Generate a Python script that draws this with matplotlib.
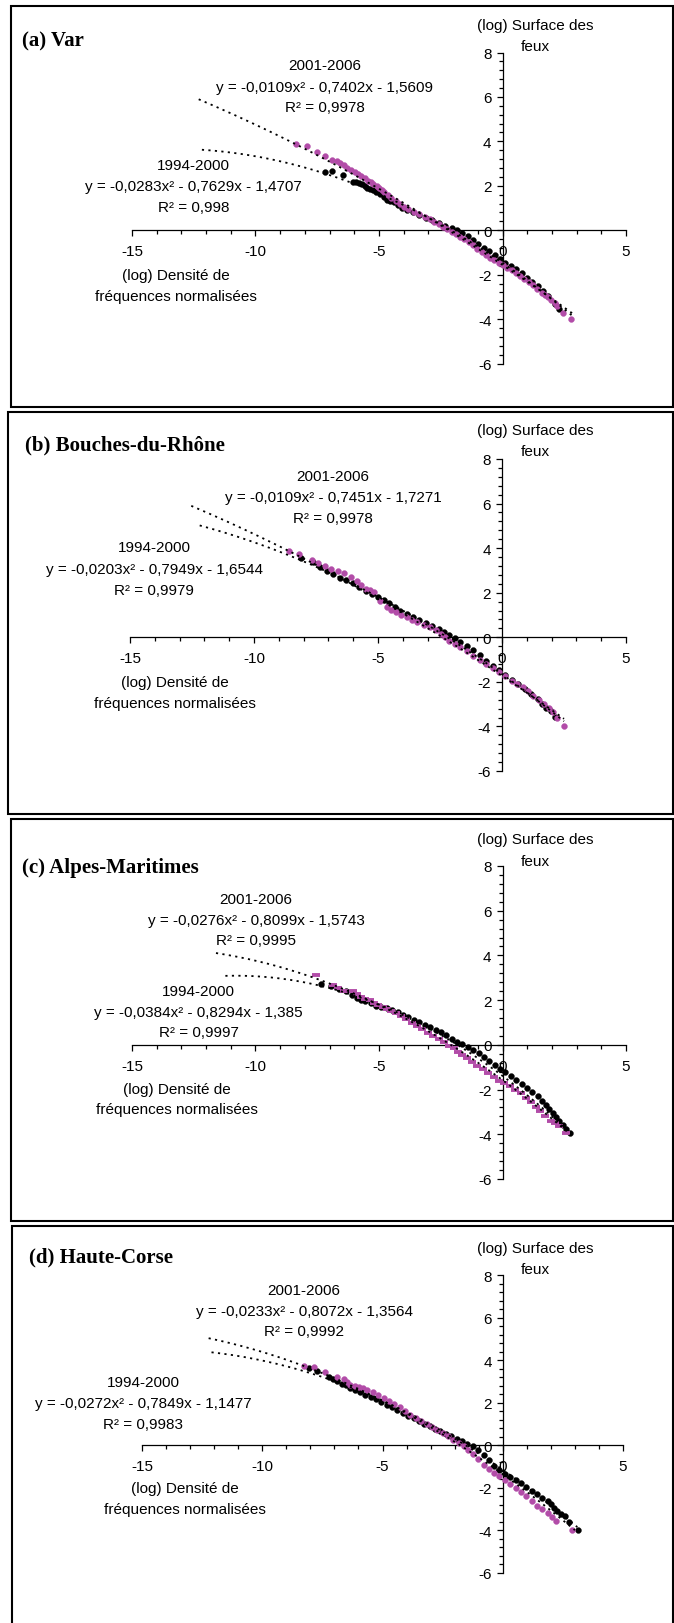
import numpy as np
import matplotlib
matplotlib.use('Agg')
import matplotlib.pyplot as plt
from matplotlib.patches import Rectangle
from matplotlib.ticker import MultipleLocator

plt.rcParams['font.family'] = ['Liberation Sans', 'DejaVu Sans']
plt.rcParams['axes.unicode_minus'] = False

W, H = 674, 1624

# ---------------- data ----------------
panel_titles = ['(a) Var', '(b) Bouches-du-Rhône', '(c) Alpes-Maritimes', '(d) Haute-Corse']
periods = ['1994-2000', '2001-2006']
x_ticks = [-15, -10, -5, 0, 5]
y_ticks = [-6, -4, -2, 0, 2, 4, 6, 8]
x_axis_title = ['(log) Densité de', 'fréquences normalisées']
y_axis_title = ['(log) Surface des', 'feux']

# (a) Var
a_x_9400 = [-7.20, -6.89, -6.47, -6.07, -5.95, -5.81, -5.70, -5.58, -5.47, -5.37, -5.24, -5.11, -4.94,
            -4.80, -4.68, -4.55, -4.41, -4.24, -4.07, -3.85, -3.63, -3.37, -3.11, -2.85, -2.59, -2.33,
            -2.06, -1.85, -1.63, -1.41, -1.19, -0.98, -0.76, -0.54, -0.32, -0.11, 0.11, 0.33, 0.55,
            0.77, 0.98, 1.20, 1.42, 1.64, 1.85, 2.11, 2.29]
a_y_9400 = [2.64, 2.67, 2.48, 2.18, 2.16, 2.12, 2.06, 2.00, 1.92, 1.85, 1.79, 1.73, 1.65,
            1.50, 1.37, 1.33, 1.28, 1.15, 1.02, 0.91, 0.80, 0.69, 0.57, 0.45, 0.32, 0.20,
            0.08, -0.01, -0.11, -0.27, -0.44, -0.61, -0.78, -0.95, -1.13, -1.30, -1.46, -1.61, -1.76,
            -1.94, -2.13, -2.32, -2.51, -2.73, -2.96, -3.33, -3.56]
a_x_0106 = [-8.37, -7.93, -7.50, -7.17, -6.90, -6.72, -6.59, -6.42, -6.28, -6.12, -5.98, -5.85, -5.72,
            -5.58, -5.46, -5.33, -5.23, -5.10, -4.99, -4.88, -4.80, -4.65, -4.50, -4.33, -4.15, -3.98,
            -3.81, -3.60, -3.37, -3.15, -2.94, -2.76, -2.59, -2.42, -2.24, -2.06, -1.89, -1.71, -1.54,
            -1.36, -1.19, -1.02, -0.85, -0.68, -0.50, -0.33, -0.15, 0.02, 0.20, 0.37, 0.55, 0.72,
            0.89, 1.06, 1.24, 1.41, 1.59, 1.72, 1.85, 1.98, 2.11, 2.20, 2.46, 2.77]
a_y_0106 = [3.87, 3.80, 3.50, 3.32, 3.17, 3.10, 3.02, 2.95, 2.82, 2.72, 2.60, 2.52, 2.42,
            2.33, 2.22, 2.16, 2.10, 2.01, 1.92, 1.83, 1.74, 1.58, 1.43, 1.30, 1.17, 1.06,
            0.95, 0.84, 0.72, 0.61, 0.50, 0.39, 0.27, 0.16, 0.05, -0.06, -0.18, -0.29, -0.41,
            -0.54, -0.68, -0.83, -0.98, -1.10, -1.23, -1.35, -1.46, -1.57, -1.68, -1.79, -1.91, -2.04,
            -2.18, -2.33, -2.48, -2.64, -2.81, -2.90, -3.00, -3.14, -3.29, -3.40, -3.71, -3.98]

# (b) Bouches-du-Rhône
b_x_9400 = [-8.11, -7.62, -7.35, -7.07, -6.81, -6.55, -6.29, -6.02, -5.76, -5.50, -5.24, -4.98, -4.77,
            -4.55, -4.33, -4.11, -3.85, -3.59, -3.33, -3.07, -2.81, -2.55, -2.33, -2.12, -1.90, -1.68,
            -1.42, -1.16, -0.90, -0.64, -0.38, -0.12, 0.14, 0.40, 0.66, 0.92, 1.18, 1.44, 1.62, 1.79,
            1.96, 2.14]
b_y_9400 = [3.56, 3.36, 3.17, 2.99, 2.82, 2.65, 2.55, 2.44, 2.27, 2.09, 1.94, 1.79, 1.67,
            1.54, 1.37, 1.20, 1.05, 0.90, 0.77, 0.64, 0.51, 0.37, 0.24, 0.10, -0.05, -0.19,
            -0.37, -0.55, -0.80, -1.05, -1.27, -1.49, -1.70, -1.90, -2.11, -2.32, -2.55, -2.77, -2.98, -3.18,
            -3.33, -3.59]
b_x_0106 = [-8.59, -8.19, -7.67, -7.40, -7.15, -6.89, -6.63, -6.37, -6.10, -5.85, -5.68, -5.50, -5.33,
            -5.16, -4.90, -4.64, -4.47, -4.29, -4.07, -3.85, -3.64, -3.42, -3.16, -2.90, -2.68, -2.47,
            -2.30, -2.12, -1.90, -1.68, -1.42, -1.16, -0.90, -0.64, -0.38, -0.12, 0.14, 0.40, 0.62,
            0.83, 1.05, 1.27, 1.48, 1.70, 1.88, 2.05, 2.22, 2.52]
b_y_0106 = [3.89, 3.74, 3.47, 3.33, 3.21, 3.06, 2.96, 2.88, 2.70, 2.54, 2.36, 2.17, 2.10,
            2.02, 1.65, 1.35, 1.24, 1.12, 1.01, 0.90, 0.78, 0.67, 0.56, 0.45, 0.31, 0.15,
            0.00, -0.15, -0.30, -0.45, -0.63, -0.82, -1.01, -1.20, -1.38, -1.57, -1.75, -1.94, -2.09,
            -2.24, -2.43, -2.62, -2.80, -2.99, -3.18, -3.36, -3.63, -3.96]

# (c) Alpes-Maritimes
c_x_9400 = [-7.33, -6.94, -6.63, -6.33, -6.10, -5.90, -5.72, -5.55, -5.33, -5.11, -4.90, -4.68, -4.46,
            -4.24, -4.02, -3.81, -3.59, -3.37, -3.15, -2.93, -2.71, -2.50, -2.28, -2.06, -1.85, -1.63,
            -1.41, -1.19, -0.97, -0.75, -0.54, -0.32, -0.10, 0.12, 0.33, 0.55, 0.77, 0.99, 1.21, 1.43,
            1.60, 1.77, 1.90, 2.04, 2.17, 2.30, 2.43, 2.56, 2.73]
c_y_9400 = [2.73, 2.63, 2.51, 2.39, 2.24, 2.09, 2.01, 1.94, 1.85, 1.76, 1.70, 1.64, 1.55,
            1.46, 1.35, 1.24, 1.12, 1.01, 0.90, 0.79, 0.68, 0.57, 0.42, 0.27, 0.15, 0.04,
            -0.08, -0.21, -0.38, -0.55, -0.72, -0.90, -1.06, -1.22, -1.38, -1.55, -1.74, -1.94, -2.12, -2.30,
            -2.50, -2.69, -2.86, -3.04, -3.21, -3.39, -3.57, -3.76, -3.94]
c_x_0106 = [-7.55, -6.86, -6.64, -6.42, -6.07, -5.90, -5.72, -5.55, -5.37, -5.20, -5.03, -4.85, -4.68,
            -4.50, -4.33, -4.11, -3.89, -3.67, -3.46, -3.24, -3.02, -2.80, -2.58, -2.37, -2.15, -1.97,
            -1.80, -1.62, -1.45, -1.23, -1.02, -0.80, -0.58, -0.36, -0.14, 0.08, 0.29, 0.51, 0.73,
            0.95, 1.16, 1.34, 1.51, 1.73, 1.95, 2.12, 2.30, 2.56]
c_y_0106 = [3.13, 2.66, 2.55, 2.43, 2.39, 2.26, 2.13, 2.06, 1.99, 1.89, 1.79, 1.70, 1.61,
            1.52, 1.43, 1.30, 1.16, 1.00, 0.84, 0.69, 0.54, 0.41, 0.27, 0.12, -0.03, -0.16,
            -0.30, -0.45, -0.60, -0.77, -0.93, -1.09, -1.25, -1.43, -1.60, -1.72, -1.85, -2.00, -2.15,
            -2.36, -2.57, -2.76, -2.94, -3.17, -3.39, -3.50, -3.61, -3.94]

# (d) Haute-Corse
d_x_9400 = [-8.07, -7.73, -7.23, -7.05, -6.88, -6.70, -6.52, -6.34, -6.16, -5.94, -5.71, -5.49, -5.27,
            -5.05, -4.82, -4.60, -4.38, -4.15, -3.93, -3.71, -3.48, -3.26, -3.04, -2.82, -2.59, -2.37,
            -2.14, -1.92, -1.70, -1.48, -1.25, -1.03, -0.80, -0.58, -0.36, -0.14, 0.09, 0.31, 0.54,
            0.76, 0.98, 1.21, 1.43, 1.65, 1.88, 2.01, 2.14, 2.27, 2.41, 2.59, 2.77, 3.13]
d_y_9400 = [3.63, 3.47, 3.23, 3.11, 3.00, 2.90, 2.81, 2.71, 2.61, 2.50, 2.38, 2.28, 2.17,
            2.04, 1.91, 1.78, 1.64, 1.51, 1.39, 1.26, 1.13, 1.01, 0.89, 0.78, 0.66, 0.54,
            0.42, 0.30, 0.19, 0.07, -0.05, -0.22, -0.44, -0.70, -0.98, -1.16, -1.33, -1.47, -1.61,
            -1.78, -1.95, -2.13, -2.31, -2.47, -2.63, -2.78, -2.94, -3.10, -3.25, -3.33, -3.61, -3.98]
d_x_0106 = [-8.25, -7.86, -7.38, -6.88, -6.61, -6.47, -6.34, -6.16, -5.98, -5.80, -5.63, -5.40, -5.18,
            -4.95, -4.73, -4.51, -4.29, -4.06, -3.84, -3.61, -3.39, -3.17, -2.95, -2.72, -2.50, -2.27,
            -2.05, -1.83, -1.61, -1.43, -1.25, -1.02, -0.80, -0.58, -0.36, -0.14, 0.09, 0.31, 0.54,
            0.76, 0.98, 1.21, 1.43, 1.65, 1.88, 2.05, 2.23, 2.86]
d_y_0106 = [3.73, 3.70, 3.42, 3.20, 3.13, 2.98, 2.84, 2.78, 2.73, 2.67, 2.61, 2.50, 2.38,
            2.22, 2.06, 1.93, 1.80, 1.62, 1.44, 1.28, 1.13, 1.00, 0.86, 0.72, 0.58, 0.43,
            0.27, 0.11, -0.05, -0.22, -0.39, -0.65, -0.91, -1.11, -1.30, -1.45, -1.61, -1.80, -2.00,
            -2.20, -2.39, -2.61, -2.83, -3.00, -3.17, -3.36, -3.56, -3.98]

# polynomial trendline coefficients (a, b, c) for y = a x^2 + b x + c
coef_9400 = [[-0.0283, -0.7629, -1.4707], [-0.0203, -0.7949, -1.6544],
             [-0.0384, -0.8294, -1.385], [-0.0272, -0.7849, -1.1477]]
coef_0106 = [[-0.0109, -0.7402, -1.5609], [-0.0109, -0.7451, -1.7271],
             [-0.0276, -0.8099, -1.5743], [-0.0233, -0.8072, -1.3564]]
range_9400 = [[-12.17, 2.9], [-12.19, 2.5], [-11.22, 2.8], [-12.11, 3.1]]
range_0106 = [[-12.30, 2.95], [-12.53, 2.5], [-11.60, 2.8], [-12.23, 3.0]]

eq_9400 = ['y = -0,0283x² - 0,7629x - 1,4707', 'y = -0,0203x² - 0,7949x - 1,6544',
           'y = -0,0384x² - 0,8294x - 1,385', 'y = -0,0272x² - 0,7849x - 1,1477']
r2_9400 = ['R² = 0,998', 'R² = 0,9979', 'R² = 0,9997', 'R² = 0,9983']
eq_0106 = ['y = -0,0109x² - 0,7402x - 1,5609', 'y = -0,0109x² - 0,7451x - 1,7271',
           'y = -0,0276x² - 0,8099x - 1,5743', 'y = -0,0233x² - 0,8072x - 1,3564']
r2_0106 = ['R² = 0,9978', 'R² = 0,9978', 'R² = 0,9995', 'R² = 0,9992']

xs_9400 = [a_x_9400, b_x_9400, c_x_9400, d_x_9400]
ys_9400 = [a_y_9400, b_y_9400, c_y_9400, d_y_9400]
xs_0106 = [a_x_0106, b_x_0106, c_x_0106, d_x_0106]
ys_0106 = [a_y_0106, b_y_0106, c_y_0106, d_y_0106]

# ---------------- layout (pixels) ----------------
boxes = [(10.7, 7.3, 672.5, 408), (8.3, 413, 672.5, 815), (10.7, 820, 672.5, 1222), (11.7, 1227, 672.5, 1640)]
axes_px = [(132, 626, 53.5, 364.5), (130, 626, 460, 772), (132, 626, 867, 1180), (142, 623, 1276, 1574)]
title_pos = [(22, 41), (25, 445), (22, 868), (29, 1257)]
ytitle_pos = [(535, 26, 46.7), (535, 430.7, 451.7), (535, 840, 861.7), (535, 1249, 1270)]
xtitle_pos = [(176, 276, 296.7), (175, 683, 704), (177, 1090, 1110), (185, 1489, 1510)]
lab0106_pos = [(325, 66, 87.7, 108.3), (333, 477.3, 498.3, 519), (256, 900, 921, 941), (304, 1290.7, 1312.3, 1332.3)]
lab9400_pos = [(193.5, 165.7, 187.3, 207.7), (154, 548.3, 570, 590.7), (198.6, 992.3, 1012.7, 1033.3), (143, 1383, 1404, 1424.7)]

MAG = '#B24CA8'
FS = 11

fig = plt.figure(figsize=(W / 100, H / 100), dpi=100)


def ftext(xp, yp, s, **kw):
    fig.text(xp / W, 1 - yp / H, s, **kw)


for i in range(4):
    bx0, by0, bx1, by1 = boxes[i]
    fig.patches.append(Rectangle((bx0 / W, 1 - by1 / H), (bx1 - bx0) / W, (by1 - by0) / H,
                                 transform=fig.transFigure, fill=False, edgecolor='black', lw=1.5))
    x0, x1, yt, yb = axes_px[i]
    ax = fig.add_axes([x0 / W, 1 - yb / H, (x1 - x0) / W, (yb - yt) / H])
    ax.patch.set_alpha(0)
    ax.set_xlim(-15, 5)
    ax.set_ylim(-6, 8)
    for s in ['top', 'right']:
        ax.spines[s].set_visible(False)
    ax.spines['left'].set_position(('data', 0))
    ax.spines['bottom'].set_position(('data', 0))
    ax.spines['left'].set_linewidth(0.9)
    ax.spines['bottom'].set_linewidth(0.9)
    ax.set_xticks(x_ticks)
    ax.set_yticks(y_ticks)
    ax.set_xticklabels([str(t) for t in x_ticks])
    ax.set_yticklabels([str(t) for t in y_ticks])
    ax.xaxis.set_minor_locator(MultipleLocator(1))
    ax.yaxis.set_minor_locator(MultipleLocator(0.4))
    ax.tick_params(axis='x', which='major', direction='out', length=4, width=0.9, pad=6, labelsize=FS)
    ax.tick_params(axis='y', which='major', direction='out', length=4, width=0.9, pad=4, labelsize=FS)
    ax.tick_params(which='minor', direction='out', length=3, width=0.9)

    # scatter series
    ax.plot(xs_9400[i], ys_9400[i], linestyle='none', marker='o', ms=4.2, mfc='black', mec='black',
            mew=0.3, zorder=3, clip_on=False)
    if i == 2:
        ax.plot(xs_0106[i], ys_0106[i], linestyle='none', marker='_', ms=6, mew=2.8, color=MAG,
                zorder=4, clip_on=False)
    else:
        ax.plot(xs_0106[i], ys_0106[i], linestyle='none', marker='o', ms=4.2, mfc=MAG, mec=MAG,
                mew=0.3, zorder=4, clip_on=False)

    # trendlines
    for coef, rng in ((coef_9400[i], range_9400[i]), (coef_0106[i], range_0106[i])):
        xx = np.linspace(rng[0], rng[1], 300)
        ax.plot(xx, np.polyval(coef, xx), color='black', lw=1.3, linestyle=(0, (1.2, 2.4)), zorder=5)

    # texts
    tx, ty = title_pos[i]
    ftext(tx, ty, panel_titles[i], ha='left', va='center', fontsize=15, fontweight='bold',
          family=['Liberation Serif', 'DejaVu Serif'])
    cx, y1, y2 = ytitle_pos[i]
    ftext(cx, y1, y_axis_title[0], ha='center', va='center', fontsize=FS)
    ftext(cx, y2, y_axis_title[1], ha='center', va='center', fontsize=FS)
    cx, y1, y2 = xtitle_pos[i]
    ftext(cx, y1, x_axis_title[0], ha='center', va='center', fontsize=FS)
    ftext(cx, y2, x_axis_title[1], ha='center', va='center', fontsize=FS)
    cx, y1, y2, y3 = lab0106_pos[i]
    ftext(cx, y1, periods[1], ha='center', va='center', fontsize=FS)
    ftext(cx, y2, eq_0106[i], ha='center', va='center', fontsize=FS)
    ftext(cx, y3, r2_0106[i], ha='center', va='center', fontsize=FS)
    cx, y1, y2, y3 = lab9400_pos[i]
    ftext(cx, y1, periods[0], ha='center', va='center', fontsize=FS)
    ftext(cx, y2, eq_9400[i], ha='center', va='center', fontsize=FS)
    ftext(cx, y3, r2_9400[i], ha='center', va='center', fontsize=FS)

fig.savefig('out.png', dpi=100, facecolor='white')
